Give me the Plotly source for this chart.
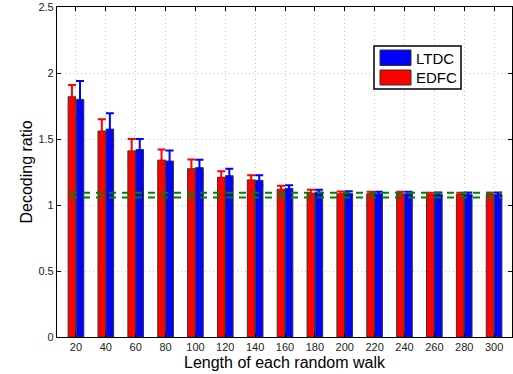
import plotly.graph_objects as go

# ---- data ----
walk_length = [20, 40, 60, 80, 100, 120, 140, 160, 180, 200, 220, 240, 260, 280, 300]
edfc = [1.82, 1.56, 1.41, 1.34, 1.275, 1.21, 1.19, 1.12, 1.09, 1.085, 1.085, 1.085, 1.08, 1.08, 1.08]
edfc_err = [0.09, 0.09, 0.09, 0.08, 0.07, 0.045, 0.035, 0.025, 0.025, 0.017, 0.015, 0.015, 0.013, 0.013, 0.013]
ltdc = [1.80, 1.575, 1.42, 1.333, 1.283, 1.222, 1.187, 1.126, 1.098, 1.088, 1.085, 1.085, 1.082, 1.082, 1.082]
ltdc_err = [0.14, 0.12, 0.08, 0.08, 0.06, 0.053, 0.038, 0.023, 0.018, 0.016, 0.015, 0.015, 0.013, 0.013, 0.013]
ref_levels = [1.092, 1.056]
ref_span = [16, 305]
y_ticks = [0, 0.5, 1, 1.5, 2, 2.5]
y_labels = ["0", "0.5", "1", "1.5", "2", "2.5"]
x_labels = [str(v) for v in walk_length]

W, H = 513, 374
L, R, T, B = 57, 1, 7, 37
PW, PH = W - L - R, H - T - B

def px(x):
    return (x - L) / PW

def py(y):
    return (H - B - y) / PH

fig = go.Figure()
fig.add_trace(go.Bar(
    x=walk_length, y=edfc, name="EDFC",
    marker=dict(color="#ff0000", line=dict(color="#333333", width=1)),
    error_y=dict(type="data", array=edfc_err, color="#ff0000", thickness=2, width=4),
    showlegend=False,
))
fig.add_trace(go.Bar(
    x=walk_length, y=ltdc, name="LTDC",
    marker=dict(color="#0000ff", line=dict(color="#333333", width=1)),
    error_y=dict(type="data", array=ltdc_err, color="#0000ff", thickness=2, width=4),
    showlegend=False,
))
for lvl in ref_levels:
    fig.add_trace(go.Scatter(
        x=ref_span, y=[lvl, lvl], mode="lines",
        line=dict(color="#008000", width=2, dash="7px,6px"),
        showlegend=False, hoverinfo="skip",
    ))

axis_common = dict(
    showline=True, linecolor="black", linewidth=1.2, mirror="ticks",
    ticks="inside", ticklen=4, tickcolor="black",
    showgrid=True, gridcolor="#c4c4c4", griddash="1px,3px", gridwidth=1,
    zeroline=False,
    tickfont=dict(family="Liberation Sans, Arial, sans-serif", size=11, color="#222222"),
)
fig.update_xaxes(range=[7.3, 312], tickvals=walk_length, ticktext=x_labels, **axis_common)
fig.update_yaxes(range=[0, 2.5], tickvals=y_ticks, ticktext=y_labels, **axis_common)

shapes = []
annotations = []
# legend box
shapes.append(dict(type="rect", xref="paper", yref="paper",
                   x0=px(374), x1=px(461), y0=py(89), y1=py(46),
                   line=dict(color="black", width=1.5), fillcolor="white", layer="above"))
shapes.append(dict(type="rect", xref="paper", yref="paper",
                   x0=px(380), x1=px(411), y0=py(65.5), y1=py(50),
                   line=dict(color="#333333", width=1), fillcolor="#0000ff", layer="above"))
shapes.append(dict(type="rect", xref="paper", yref="paper",
                   x0=px(380), x1=px(411), y0=py(85), y1=py(70),
                   line=dict(color="#333333", width=1), fillcolor="#ff0000", layer="above"))
fig.update_layout(shapes=shapes)

legend_font = dict(family="Liberation Sans, Arial, sans-serif", size=15, color="black")
annotations.append(dict(text="LTDC", xref="paper", yref="paper", x=px(414), y=py(58),
                        xanchor="left", yanchor="middle", showarrow=False, font=legend_font))
annotations.append(dict(text="EDFC", xref="paper", yref="paper", x=px(414), y=py(77.5),
                        xanchor="left", yanchor="middle", showarrow=False, font=legend_font))
title_font = dict(family="Liberation Sans, Arial, sans-serif", size=16, color="black")
annotations.append(dict(text="Length of each random walk", xref="paper", yref="paper",
                        x=0.5, y=py(362), xanchor="center", yanchor="middle",
                        showarrow=False, font=title_font))
annotations.append(dict(text="Decoding ratio", xref="paper", yref="paper",
                        x=px(25.5), y=0.5, xanchor="center", yanchor="middle",
                        textangle=-90, showarrow=False, font=title_font))

fig.update_layout(
    annotations=annotations,
    width=W, height=H,
    margin=dict(l=L, r=R, t=T, b=B),
    paper_bgcolor="white", plot_bgcolor="white",
    barmode="group", bargap=0.46, bargroupgap=0.06,
    showlegend=False,
)

fig.write_html("out.html", config={"displayModeBar": False},
               post_script="document.body.style.margin='0';document.body.style.padding='0';")
